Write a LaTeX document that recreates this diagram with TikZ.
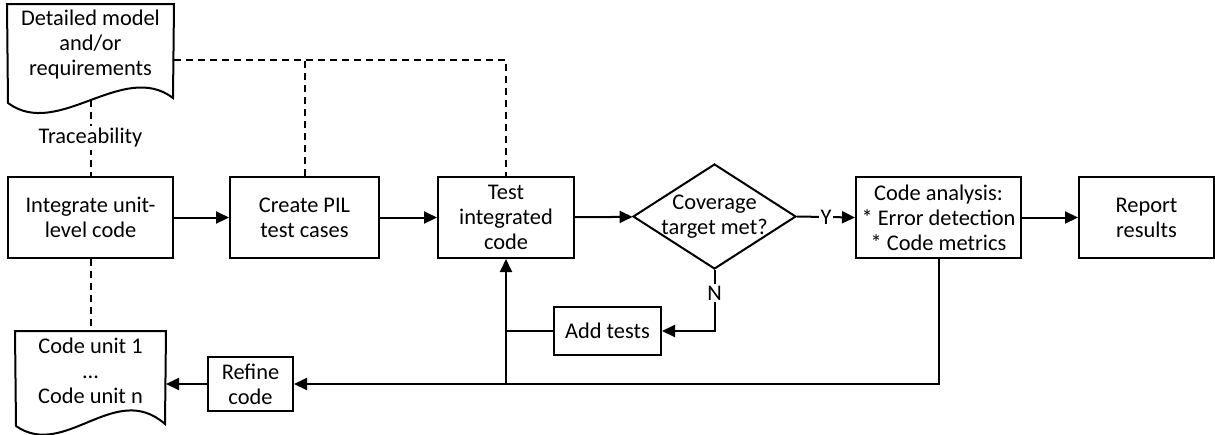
\documentclass[tikz,border=0pt]{standalone}
\usepackage{fontspec}
\setmainfont{Carlito}
\usepackage{tikz}
\usetikzlibrary{positioning,arrows.meta,shapes.geometric}

\begin{document}
\begin{tikzpicture}[x=0.5pt,y=-0.5pt,line width=1pt,
  every node/.style={font=\fontsize{11.2}{12.5}\selectfont,align=center},
  box/.style={draw,minimum height=40.5pt,inner sep=0pt},
  flow/.style={-{Triangle[length=6.5pt,width=6pt]}},
  trace/.style={dashed,dash pattern=on 3.5pt off 2.5pt}]
 \useasboundingbox (0,0) rectangle (1215,434);
 % documents
 \node[minimum width=82.5pt,minimum height=40pt,inner sep=0pt] (req) at (90.5,45) {Detailed model\\and/or\\requirements};
 \draw (req.north west) -- (req.north east) -- (173,98) .. controls (123,60) and (58,140) .. (8,103) -- cycle;
 \node[minimum width=74.5pt,minimum height=39pt,inner sep=0pt] (units) at (90.5,371) {Code unit 1\\...\\Code unit n};
 \draw (units.north west) -- (units.north east) -- (165,424) .. controls (115,380) and (65,460) .. (16,426) -- cycle;
 % main row
 \node[box,minimum width=82.5pt] (integrate) at (90.5,217.5) {Integrate unit-\\level code};
 \node[box,minimum width=74.5pt] (pil) at (304.5,217.5) {Create PIL\\test cases};
 \node[box,minimum width=68pt] (testint) at (506,217.5) {Test\\integrated\\code};
 \node[draw,diamond,minimum width=81.5pt,minimum height=52.5pt,inner sep=0pt,
   label={[align=center]center:Coverage\\target met?}] (cov) at (714.5,216.5) {};
 \node[box,minimum width=82.5pt] (analysis) at (938.5,217.5) {Code analysis:\\* Error detection\\* Code metrics};
 \node[box,minimum width=67.5pt] (report) at (1146.5,217.5) {Report\\results};
 % loop boxes
 \node[box,minimum width=53.5pt,minimum height=24pt] (add) at (607.5,331) {Add tests};
 \node[box,minimum width=42.5pt,minimum height=27pt] (refine) at (250.5,384) {Refine\\code};

 \draw[flow] (integrate) -- (pil);
 \draw[flow] (pil) -- (testint);
 \draw[flow] (testint) -- (cov);
 \draw[flow] (cov.east) -- node[fill=white,inner sep=1pt]{Y} (analysis.west);
 \draw[flow] (analysis) -- (report);
 \draw[flow] (cov.south) |- node[pos=0.19,fill=white,inner sep=1pt]{N} (add.east);
 \draw[flow] (analysis.south) |- (refine.east);
 \coordinate (join) at (testint.south |- refine.east);
 \draw[flow] (join) -- (testint.south);
 \draw (add.west) -- (add.west -| join);
 \draw[flow] (refine.west) -- (refine.west -| units.east);
 % traceability
 \coordinate (reqfoot) at (90.5,100);
 \coordinate (tracetop) at ([yshift=-7.5pt]req.east);
 \draw[trace] (reqfoot) -- node[fill=white,inner sep=1pt]{Traceability} (integrate.north);
 \draw[trace] (tracetop) -| (testint.north);
 \draw[trace] (pil.north) -- (pil.north |- tracetop);
 \draw[trace] (integrate.south) -- (units.north);
\end{tikzpicture}
\end{document}
